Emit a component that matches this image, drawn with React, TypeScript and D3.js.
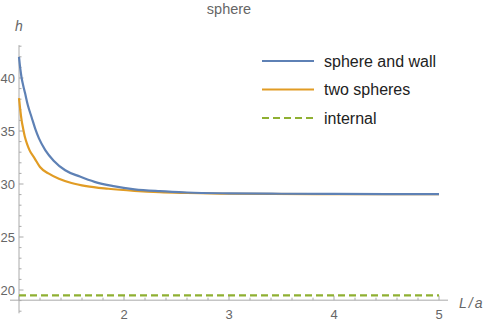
import React from 'react';
import * as d3 from 'd3';

// values
const wallL = [1.0, 1.012, 1.025, 1.04, 1.057, 1.085, 1.12, 1.155, 1.19, 1.25, 1.33, 1.44, 1.58, 1.72, 1.9, 2.1, 2.34, 2.6, 3.0, 3.5, 4.0, 4.5, 5.0];
const wallH = [42.0, 40.9, 40.0, 39.3, 38.6, 37.4, 36.3, 35.2, 34.3, 33.2, 32.2, 31.3, 30.7, 30.2, 29.8, 29.5, 29.32, 29.2, 29.12, 29.08, 29.06, 29.05, 29.05];

const twoL = [1.0, 1.012, 1.025, 1.04, 1.057, 1.08, 1.1, 1.15, 1.2, 1.28, 1.38, 1.5, 1.64, 1.85, 2.1, 2.34, 2.6, 3.0, 4.0, 5.0];
const twoH = [38.1, 37.0, 36.0, 35.2, 34.4, 33.7, 33.2, 32.4, 31.6, 31.0, 30.5, 30.1, 29.8, 29.55, 29.35, 29.22, 29.15, 29.08, 29.05, 29.04];

const internalH = 19.5;

const xTicks = [2, 3, 4, 5];
const yTicks = [20, 25, 30, 35, 40];

const legendNames = ['sphere and wall', 'two spheres', 'internal'];
const colors = ['#5e81b5', '#e19c24', '#8fb032'];

const W = 485;
const H = 324;

export default function App() {
  const x = d3.scaleLinear().domain([1, 5]).range([19, 439]);
  const y = d3.scaleLinear().domain([20, 40]).range([290, 78]);

  const axisY = y(19.04);
  const line = d3
    .line<[number, number]>()
    .x(d => x(d[0]))
    .y(d => y(d[1]))
    .curve(d3.curveMonotoneX);

  const wallPts = wallL.map((l, i) => [l, wallH[i]] as [number, number]);
  const twoPts = twoL.map((l, i) => [l, twoH[i]] as [number, number]);

  const xMinor = d3.range(1, 5.01, 0.2).map(v => +v.toFixed(2));
  const yMinor = d3.range(18, 44, 1);

  const font = 'Liberation Sans, Arial, sans-serif';
  const tickCol = '#aaaaaa';
  const labelCol = '#666666';

  return (
    <svg width={W} height={H} style={{ position: 'absolute', left: 0, top: 0 }} fontFamily={font}>
      <rect width={W} height={H} fill="#fff" />
      {/* title */}
      <text x={229} y={14} textAnchor="middle" fontSize={14.5} fill={labelCol}>sphere</text>

      {/* axes */}
      <line x1={10} x2={448} y1={axisY} y2={axisY} stroke={tickCol} strokeWidth={1} />
      <line x1={x(1)} x2={x(1)} y1={y(43.1)} y2={y(17.8)} stroke={tickCol} strokeWidth={1} />

      {xMinor.map(v => {
        const major = xTicks.includes(v) || v === 1;
        return (
          <line key={'xm' + v} x1={x(v)} x2={x(v)} y1={axisY} y2={axisY - (major ? 4.5 : 2.5)} stroke={tickCol} />
        );
      })}
      {yMinor.map(v => {
        const major = v % 5 === 0;
        return (
          <line key={'ym' + v} x1={x(1)} x2={x(1) + (major ? 4.5 : 2.5)} y1={y(v)} y2={y(v)} stroke={tickCol} />
        );
      })}

      {xTicks.map(v => (
        <text key={'xt' + v} x={x(v)} y={319} textAnchor="middle" fontSize={13} fill={labelCol}>{v}</text>
      ))}
      {yTicks.map(v => (
        <text key={'yt' + v} x={15} y={y(v)} dy="0.35em" textAnchor="end" fontSize={13} fill={labelCol}>{v}</text>
      ))}

      <text x={19} y={30.5} textAnchor="middle" fontSize={14} fontStyle="italic" fill={labelCol}>h</text>
      <text x={459} y={308} fontSize={14} fontStyle="italic" fill={labelCol}>L<tspan dx={2}>/</tspan><tspan dx={2}>a</tspan></text>

      {/* curves */}
      <line x1={x(1)} x2={x(5)} y1={y(internalH)} y2={y(internalH)} stroke={colors[2]} strokeWidth={2.2} strokeDasharray="7,4" />
      <path d={line(twoPts) || ''} fill="none" stroke={colors[1]} strokeWidth={2.2} />
      <path d={line(wallPts) || ''} fill="none" stroke={colors[0]} strokeWidth={2.2} />

      {/* legend */}
      {legendNames.map((n, i) => {
        const ly = 61 + i * 28.5;
        return (
          <g key={n}>
            <line x1={262} x2={314} y1={ly} y2={ly} stroke={colors[i]} strokeWidth={2.2} strokeDasharray={i === 2 ? '7,4' : undefined} />
            <text x={324} y={ly} dy="0.35em" fontSize={16} fill="#222">{n}</text>
          </g>
        );
      })}
    </svg>
  );
}
